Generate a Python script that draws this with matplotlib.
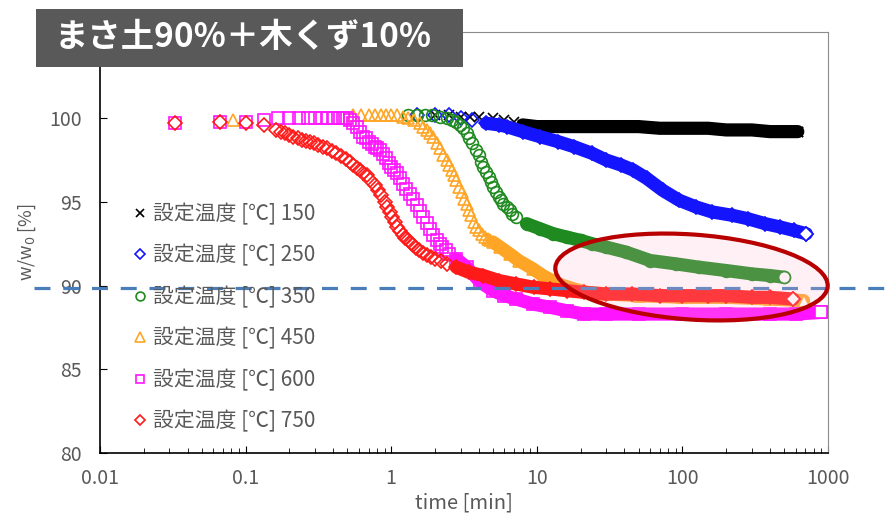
import matplotlib
matplotlib.use("Agg")
import matplotlib.pyplot as plt
from matplotlib.patches import Rectangle, Ellipse

plt.rcParams['font.family'] = ['Noto Sans CJK JP', 'DejaVu Sans']

####> DATA <####
# time [min] / w/w0 [%] for each set temperature
t_150 = [2, 2.5, 3, 3.5, 4, 5, 6, 7, 8, 10, 14, 20, 30, 50, 70, 100, 150, 200, 300, 400, 500, 620]
w_150 = [100.2, 100.2, 100.1, 100.1, 100.1, 100.0, 99.9, 99.8, 99.6, 99.5, 99.5, 99.5, 99.5, 99.5,
         99.4, 99.4, 99.4, 99.3, 99.3, 99.2, 99.2, 99.2]

t_250 = [1.5, 2, 2.5, 3, 3.6, 4.5, 5.5, 6.2, 8, 10.5, 14, 18, 24, 30, 38, 46, 57, 73, 95, 124, 160, 220, 280,
         370, 470, 580, 710]
w_250 = [100.2, 100.2, 100.2, 100.0, 99.9, 99.7, 99.6, 99.5, 99.2, 98.9, 98.6, 98.3, 97.9, 97.5, 97.2, 96.9,
         96.4, 95.7, 95.1, 94.7, 94.4, 94.2, 94.0, 93.7, 93.5, 93.3, 93.1]

t_350 = [1.3, 1.5, 1.7, 1.9, 2.15, 2.4, 2.6, 2.8, 2.95, 3.1, 3.3, 3.45, 3.6, 3.8, 4.0, 4.15, 4.3, 4.5, 4.7, 4.85,
         5.0, 5.25, 5.5, 5.7, 5.9, 6.2, 6.5, 6.8, 7.2, 8.5, 10.5, 13, 16, 20, 24, 30, 41, 60, 90, 130, 200, 300,
         400, 500]
w_350 = [100.2, 100.2, 100.2, 100.2, 100.1, 100.0, 99.9, 99.8, 99.6, 99.4, 99.1, 98.8, 98.5, 98.1, 97.8, 97.4,
         97.1, 96.8, 96.5, 96.2, 95.9, 95.6, 95.3, 95.1, 94.9, 94.7, 94.5, 94.3, 94.1, 93.7, 93.4, 93.1, 92.9,
         92.7, 92.5, 92.3, 92.0, 91.5, 91.3, 91.1, 90.9, 90.7, 90.6, 90.5]

t_450 = [0.082, 0.55, 0.62, 0.7, 0.78, 0.85, 0.92, 1.0, 1.1, 1.2, 1.3, 1.44, 1.58, 1.66, 1.75, 1.85, 1.94, 2.05,
         2.15, 2.27, 2.4, 2.5, 2.6, 2.7, 2.8, 2.92, 3.05, 3.17, 3.3, 3.42, 3.55, 3.68, 3.8, 4.0, 4.2, 4.4, 4.6,
         4.8, 5.0, 5.6, 6.5, 7.5, 9.4, 11, 14, 18, 22, 30, 50, 100, 200, 400, 680]
w_450 = [99.9, 100.2, 100.2, 100.2, 100.2, 100.2, 100.2, 100.2, 100.2, 100.1, 100.0, 99.9, 99.7, 99.5, 99.3,
         99.1, 98.9, 98.5, 98.2, 97.8, 97.5, 97.2, 96.9, 96.6, 96.3, 95.9, 95.6, 95.2, 94.9, 94.5, 94.2, 93.8,
         93.5, 93.3, 93.1, 92.9, 92.8, 92.7, 92.6, 92.3, 91.9, 91.5, 91.0, 90.6, 90.1, 89.8, 89.6, 89.5, 89.4,
         89.3, 89.3, 89.2, 89.1]

t_600 = [0.033, 0.067, 0.1, 0.133, 0.167, 0.2, 0.233, 0.267, 0.3, 0.333, 0.367, 0.4, 0.433, 0.467, 0.5, 0.52,
         0.55, 0.58, 0.61, 0.64, 0.67, 0.7, 0.74, 0.77, 0.8, 0.84, 0.88, 0.92, 0.96, 1.0, 1.05, 1.1, 1.15, 1.2,
         1.27, 1.34, 1.42, 1.5, 1.58, 1.66, 1.75, 1.85, 1.95, 2.05, 2.15, 2.25, 2.38, 2.5, 2.8, 3.3, 4.1, 5.0,
         6.0, 7.2, 9.4, 12.4, 16, 21, 30, 50, 100, 200, 400, 600, 900]
w_600 = [99.7, 99.8, 99.8, 99.9, 100.0, 100.0, 100.0, 100.0, 100.0, 100.0, 100.0, 100.0, 100.0, 100.0, 100.0,
         99.9, 99.7, 99.5, 99.2, 98.9, 98.8, 98.6, 98.45, 98.3, 98.2, 98.1, 97.85, 97.6, 97.35, 97.1, 96.9, 96.7,
         96.4, 96.1, 95.8, 95.5, 95.15, 94.8, 94.45, 94.1, 93.75, 93.4, 93.05, 92.7, 92.5, 92.3, 92.1, 91.9, 91.6,
         91.1, 90.2, 89.7, 89.4, 89.2, 88.9, 88.7, 88.5, 88.3, 88.3, 88.3, 88.3, 88.3, 88.3, 88.3, 88.4]

t_750 = [0.033, 0.067, 0.1, 0.133, 0.163, 0.175, 0.187, 0.2, 0.213, 0.228, 0.243, 0.26, 0.277, 0.296, 0.316,
         0.338, 0.36, 0.39, 0.42, 0.455, 0.49, 0.52, 0.55, 0.58, 0.61, 0.645, 0.68, 0.72, 0.77, 0.81, 0.85, 0.9,
         0.94, 0.98, 1.02, 1.06, 1.1, 1.15, 1.2, 1.25, 1.3, 1.36, 1.42, 1.48, 1.55, 1.65, 1.75, 1.87, 2.0, 2.2,
         2.4, 2.8, 3.4, 4.3, 5.5, 7.2, 9.5, 12.4, 16, 21, 30, 45, 70, 100, 150, 200, 300, 400, 575]
w_750 = [99.7, 99.8, 99.7, 99.6, 99.3, 99.2, 99.1, 99.0, 98.9, 98.8, 98.7, 98.65, 98.6, 98.5, 98.4, 98.3, 98.2,
         98.05, 97.9, 97.75, 97.55, 97.4, 97.2, 97.05, 96.9, 96.75, 96.6, 96.3, 96.0, 95.7, 95.4, 95.0, 94.7,
         94.4, 94.1, 93.8, 93.5, 93.25, 93.0, 92.85, 92.7, 92.55, 92.4, 92.25, 92.1, 91.95, 91.8, 91.7, 91.6,
         91.45, 91.3, 91.1, 90.8, 90.6, 90.3, 90.1, 89.9, 89.8, 89.7, 89.6, 89.5, 89.5, 89.4, 89.4, 89.4, 89.4,
         89.3, 89.3, 89.2]

temps = [150, 250, 350, 450, 600, 750]
series_t = [t_150, t_250, t_350, t_450, t_600, t_750]
series_w = [w_150, w_250, w_350, w_450, w_600, w_750]

title = "まさ土90%＋木くず10%"
legend_fmt = "設定温度 [℃] {}"
x_ticks = [0.01, 0.1, 1, 10, 100, 1000]
x_ticklabels = ["0.01", "0.1", "1", "10", "100", "1000"]
y_ticks = [80, 85, 90, 95, 100]
ref_level = 89.85

####> STYLE <####
colors = ['#000000', '#1414ff', '#1f8a1f', '#ffa526', '#ff14ff', '#ff1a1a']
markers = ['x', 'D', 'o', '^', 's', 'D']
msizes = [7.5, 7.0, 8.5, 9.0, 8.5, 7.0]
band_from = [8, 4, 7.5, 5, 2.6, 2.6]      # marker cloud turns into a solid band from here on
GREY = '#595959'

fig = plt.figure(figsize=(8.87, 5.24), dpi=100)
ax = fig.add_axes([0.1127, 0.1355, 0.8208, 0.8034])

for T, ts, ws, c, m, ms, tb in zip(temps, series_t, series_w, colors, markers, msizes, band_from):
    bt = [t for t in ts if t >= tb]
    bw = [w for t, w in zip(ts, ws) if t >= tb]
    ax.plot(bt, bw, '-', color=c, lw=9.5, solid_capstyle='round', zorder=2)
    ax.plot(ts, ws, ls='none', marker=m, ms=ms, mfc='none', mec=c, mew=1.2, zorder=2,
            label=legend_fmt.format(T))
    ax.plot(ts[-1:], ws[-1:], ls='none', marker=m, ms=ms, mfc='white', mec=c, mew=1.2, zorder=2)

ax.set_xscale('log')
ax.set_xlim(0.01, 1000)
ax.set_ylim(80, 105.15)
ax.set_xticks(x_ticks)
ax.set_xticklabels(x_ticklabels)
ax.set_yticks(y_ticks)
ax.tick_params(which='both', direction='in', top=False, right=False, colors='black', labelcolor=GREY,
               labelsize=14)
ax.tick_params(axis='x', which='major', length=5, pad=11)
ax.tick_params(axis='x', which='minor', length=3.5)
ax.tick_params(axis='y', which='major', length=5, pad=13)
for s in ['top', 'right']:
    ax.spines[s].set_color('#8c8c8c')
for s in ['left', 'bottom']:
    ax.spines[s].set_linewidth(1.2)

ax.set_xlabel("time [min]", color=GREY, fontsize=14.5, labelpad=2)
ax.set_ylabel("w/w$_0$ [%]", color=GREY, fontsize=13, labelpad=8)

leg = ax.legend(loc='upper left', bbox_to_anchor=(0.0407, 0.594), frameon=False, fontsize=15,
                labelspacing=0.93, handletextpad=0.1, handlelength=1.0, borderpad=0, borderaxespad=0,
                markerscale=0.75, labelcolor=GREY)

# 90 % guide line running across the whole figure
ax.axhline(ref_level, xmin=-0.09, xmax=1.1, color='#4a7ebb', lw=2.3, ls=(0, (5, 4)), clip_on=False, zorder=5)

# highlighted region
ell = Ellipse((6.915, 2.47), 2.73, 0.85, angle=-4, transform=fig.dpi_scale_trans,
              facecolor=(1.0, 0.72, 0.82, 0.2), edgecolor='#b80000', lw=3)
fig.add_artist(ell)

# title plate
fig.add_artist(Rectangle((0.0406, 0.872), 0.4814, 0.1107, transform=fig.transFigure,
                         facecolor='#595959', edgecolor='none'))
fig.text(0.062, 0.9275, title, color='white', fontsize=24, fontweight='bold', va='center', ha='left')

fig.savefig('out.png', dpi=100)
